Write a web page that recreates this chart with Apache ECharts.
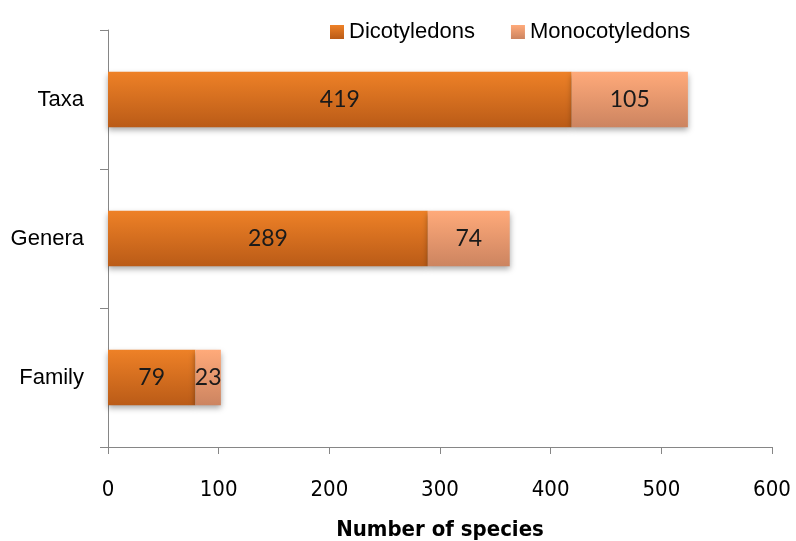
<!DOCTYPE html>
<html><head><meta charset="utf-8">
<script src="https://cdn.jsdelivr.net/npm/echarts@6/dist/echarts.min.js"></script>
<style>html,body{margin:0;padding:0;background:#fff}#c{width:796px;height:541px}</style>
</head><body><div id="c"></div>
<script>
const categories = ['Family', 'Genera', 'Taxa'];
const dicotyledons = [79, 289, 419];
const monocotyledons = [23, 74, 105];
const seriesNames = ['Dicotyledons', 'Monocotyledons'];
const xTicks = [0, 100, 200, 300, 400, 500, 600];

const chart = echarts.init(document.getElementById('c'));
const grad = (a, b) => new echarts.graphic.LinearGradient(0, 0, 0, 1, [{offset: 0, color: a}, {offset: 1, color: b}]);
const labelStyle = {show: true, position: 'inside', color: '#1a1a1a', fontSize: 23, fontFamily: 'Lato, "Open Sans", sans-serif'};
chart.setOption({
  animation: false,
  legend: {
    top: 16, left: 325,
    itemWidth: 14, itemHeight: 14, itemGap: 36,
    textStyle: {fontSize: 22, fontFamily: '"Liberation Sans", Arial, sans-serif', color: '#000'},
    data: [
      {name: seriesNames[0], icon: 'rect', itemStyle: {color: grad('#EE8127', '#BA5B17')}},
      {name: seriesNames[1], icon: 'rect', itemStyle: {color: grad('#FFAA7A', '#CC8460')}}
    ]
  },
  grid: {left: 108, right: 24, top: 30, bottom: 94, containLabel: false, outerBoundsMode: 'none'},
  xAxis: {
    type: 'value', min: xTicks[0], max: xTicks[xTicks.length - 1], interval: 100,
    name: 'Number of species', nameLocation: 'middle', nameGap: 72,
    nameTextStyle: {fontSize: 22, fontWeight: 'bold', fontFamily: '"DejaVu Sans Condensed", "Liberation Sans Narrow", sans-serif', color: '#000'},
    axisLine: {show: true, lineStyle: {color: '#868686'}},
    axisTick: {show: true, length: 7, lineStyle: {color: '#868686'}},
    axisLabel: {fontSize: 22, margin: 32, color: '#000', fontFamily: '"DejaVu Sans Condensed", "Liberation Sans Narrow", sans-serif'},
    splitLine: {show: false}
  },
  yAxis: {
    type: 'category', data: categories,
    axisLine: {show: true, lineStyle: {color: '#868686'}},
    axisTick: {show: true, length: 8, lineStyle: {color: '#868686'}},
    axisLabel: {fontSize: 22, margin: 24, color: '#000', fontFamily: '"Liberation Sans", Arial, sans-serif'}
  },
  series: [
    {name: seriesNames[0], type: 'bar', stack: 's', data: dicotyledons, barCategoryGap: '60%',
     itemStyle: {color: grad('#EE8127', '#BA5B17'), shadowColor: 'rgba(0,0,0,0.35)', shadowBlur: 6, shadowOffsetY: 3},
     label: labelStyle},
    {name: seriesNames[1], type: 'bar', stack: 's', data: monocotyledons, barCategoryGap: '60%',
     itemStyle: {color: grad('#FFAA7A', '#CC8460'), shadowColor: 'rgba(0,0,0,0.35)', shadowBlur: 6, shadowOffsetY: 3},
     label: labelStyle}
  ]
});
</script></body></html>
